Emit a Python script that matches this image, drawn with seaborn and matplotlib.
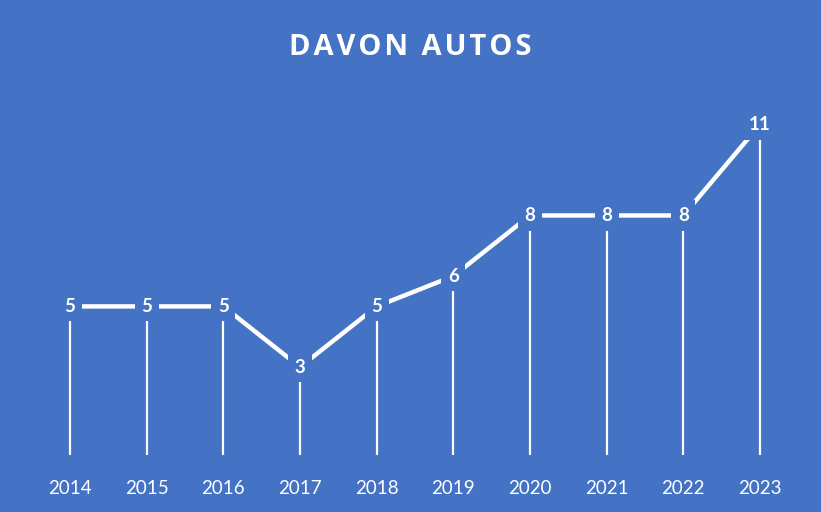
import matplotlib
matplotlib.use("Agg")
import matplotlib.pyplot as plt
import seaborn as sns
import pandas as pd

# Chart data
years = ['2014', '2015', '2016', '2017', '2018', '2019', '2020', '2021', '2022', '2023']
values = [5, 5, 5, 3, 5, 6, 8, 8, 8, 11]
title = 'DAVON AUTOS'

bg = '#4472C4'

df = pd.DataFrame({'year': years, 'value': values})
df['pos'] = range(len(years))

sns.set_theme(style='white')
plt.rcParams['font.family'] = ['Lato', 'DejaVu Sans']

fig = plt.figure(figsize=(8.21, 5.12), dpi=100, facecolor=bg)
ax = fig.add_axes([0.0386, 0.1055, 0.9338, 0.7105])
ax.set_facecolor(bg)

# drop lines from the axis to each point
ax.vlines(df['pos'], 0.1, df['value'], color='white', linewidth=1.6, zorder=1)

# the main line
sns.lineplot(data=df, x='pos', y='value', color='white', linewidth=3.2,
             ax=ax, zorder=2)

# value labels, boxed in the background colour to break the lines
for p, v in zip(df['pos'], df['value']):
    ax.text(p, v, str(v), ha='center', va='center', color='white',
            fontsize=13.5, fontweight='bold', zorder=3,
            bbox=dict(boxstyle='square,pad=0.35', facecolor=bg, edgecolor='none'))

ax.set_xlim(-0.5, len(years) - 0.5)
ax.set_ylim(0, 12)
ax.set_xticks(df['pos'])
ax.set_xticklabels(years)
ax.set_yticks([])
ax.set_xlabel('')
ax.set_ylabel('')
ax.tick_params(axis='x', length=0, colors='white', labelsize=13.5, pad=16)
for s in ax.spines.values():
    s.set_visible(False)

# letter-spaced title
spaced = '\u200a'.join(title)
fig.text(0.5, 0.907, spaced, ha='center', va='center', color='white',
         fontsize=21, fontweight='bold', family=['Open Sans', 'DejaVu Sans'])

fig.savefig('out.png', dpi=100, facecolor=bg)
